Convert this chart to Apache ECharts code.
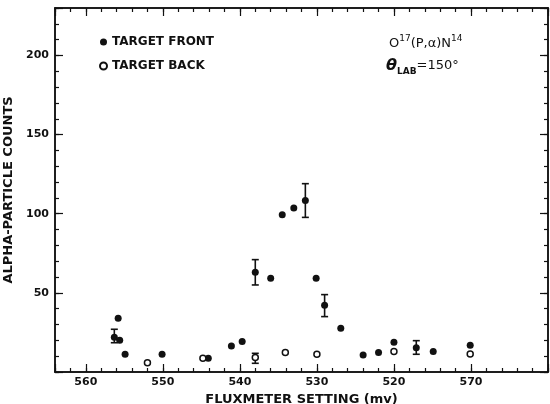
<!DOCTYPE html>
<html>
<head>
<meta charset="utf-8" />
<style>
  html, body { margin: 0; padding: 0; background: #fff; }
  #chart { width: 550px; height: 404px; }
</style>
<script src="https://cdn.jsdelivr.net/npm/echarts@6/dist/echarts.min.js"></script>
</head>
<body>
<div id="chart"></div>
<script>
// Values (fluxmeter setting in mV, alpha counts).
const frontX = [555.8, 556.3, 555.6, 554.9, 550.1, 544.1, 541.1, 539.7, 538.0, 536.0, 534.5, 533.0, 531.5, 530.1, 529.0, 526.9, 524.0, 522.0, 520.0, 517.1, 514.9, 510.1];
const frontY = [34.0, 22.0, 20.0, 11.2, 11.2, 8.7, 16.5, 19.2, 63.1, 59.3, 99.4, 103.6, 108.4, 59.3, 42.2, 27.6, 10.8, 12.4, 18.8, 15.4, 12.9, 16.9];
const backX = [552.0, 544.8, 538.0, 534.1, 530.0, 520.0, 510.1];
const backY = [5.9, 8.7, 9.1, 12.4, 11.2, 12.9, 11.4];
// error bars: position, low, high
const errX = [556.3, 538.0, 531.5, 529.0, 517.1, 538.0];
const errLow = [18.5, 55.0, 97.7, 35.0, 11.2, 5.5];
const errHigh = [27.0, 71.0, 119.0, 48.9, 19.8, 11.8];
const xTickLabels = { 560: '560', 550: '550', 540: '540', 530: '530', 520: '520', 510: '570' };
const yTickLabels = { 50: '50', 100: '100', 150: '150', 200: '200' };

const font = 'DejaVu Sans';
const ink = '#111';
const xMin = 500, xMax = 564, yMin = 0, yMax = 230;

function xAxisDef(position, interval, len, showLabel) {
  return {
    type: 'value', position: position, inverse: true,
    min: xMin, max: xMax, interval: interval,
    splitLine: { show: false },
    axisLine: { show: true, onZero: false, lineStyle: { color: ink, width: 1.5 } },
    axisTick: { show: true, inside: true, length: len, lineStyle: { color: ink, width: 1.2 } },
    axisLabel: {
      show: showLabel, margin: 5, color: ink, fontFamily: font, fontSize: 11, fontWeight: 'bold',
      formatter: v => xTickLabels[v] || ''
    }
  };
}

function yAxisDef(position, interval, len, showLabel) {
  return {
    type: 'value', position: position,
    min: yMin, max: yMax, interval: interval,
    splitLine: { show: false },
    axisLine: { show: true, onZero: false, lineStyle: { color: ink, width: 1.5 } },
    axisTick: { show: true, inside: true, length: len, lineStyle: { color: ink, width: 1.2 } },
    axisLabel: {
      show: showLabel, margin: 6, color: ink, fontFamily: font, fontSize: 11, fontWeight: 'bold',
      formatter: v => yTickLabels[v] || ''
    }
  };
}

const xAxes = [
  xAxisDef('bottom', 10, 8, true),
  xAxisDef('bottom', 2, 4, false),
  xAxisDef('top', 10, 8, false),
  xAxisDef('top', 2, 4, false)
];
xAxes[0].name = 'FLUXMETER SETTING (mv)';
xAxes[0].nameLocation = 'middle';
xAxes[0].nameGap = 16;
xAxes[0].nameTextStyle = { color: ink, fontFamily: font, fontSize: 13, fontWeight: 'bold' };

const yAxes = [
  yAxisDef('left', 50, 8, true),
  yAxisDef('left', 10, 4, false),
  yAxisDef('right', 50, 8, false),
  yAxisDef('right', 10, 4, false)
];
yAxes[0].name = 'ALPHA-PARTICLE COUNTS';
yAxes[0].nameLocation = 'middle';
yAxes[0].nameGap = 33;
yAxes[0].nameTextStyle = { color: ink, fontFamily: font, fontSize: 13, fontWeight: 'bold' };

const errData = errX.map((x, i) => [x, errLow[i], errHigh[i]]);

function renderErrorBar(params, api) {
  const x = api.value(0);
  const top = api.coord([x, api.value(2)]);
  const bot = api.coord([x, api.value(1)]);
  const cap = 3.5;
  const style = { stroke: ink, lineWidth: 1.6 };
  return {
    type: 'group',
    children: [
      { type: 'line', shape: { x1: top[0], y1: top[1], x2: bot[0], y2: bot[1] }, style: style },
      { type: 'line', shape: { x1: top[0] - cap, y1: top[1], x2: top[0] + cap, y2: top[1] }, style: style },
      { type: 'line', shape: { x1: bot[0] - cap, y1: bot[1], x2: bot[0] + cap, y2: bot[1] }, style: style }
    ]
  };
}

const chart = echarts.init(document.getElementById('chart'), null, { renderer: 'canvas' });
chart.setOption({
  animation: false,
  backgroundColor: '#fff',
  grid: { left: 55, right: 2, top: 8, bottom: 32, containLabel: false, outerBoundsMode: 'none' },
  xAxis: xAxes,
  yAxis: yAxes,
  legend: {
    orient: 'vertical', left: 94, top: 31, itemGap: 12,
    itemWidth: 7, itemHeight: 7,
    textStyle: { color: ink, fontFamily: font, fontSize: 12, fontWeight: 'bold' },
    data: ['TARGET FRONT', 'TARGET BACK']
  },
  graphic: [
    {
      type: 'text', left: 389, top: 34,
      style: {
        text: '{b|O}{s|17}{b|(P,α)N}{s|14}',
        rich: {
          b: { fontFamily: font, fontSize: 13, fill: ink, verticalAlign: 'bottom', lineHeight: 16 },
          s: { fontFamily: font, fontSize: 9, fill: ink, verticalAlign: 'top', lineHeight: 16, padding: [0, 0, 8, 0] }
        }
      }
    },
    {
      type: 'text', left: 386, top: 55,
      style: {
        text: '{t|θ}{l|LAB}{e|=150°}',
        rich: {
          t: { fontFamily: font, fontSize: 16, fontStyle: 'italic', fontWeight: 'bold', fill: ink, lineHeight: 20 },
          l: { fontFamily: font, fontSize: 9, fontWeight: 'bold', fill: ink, lineHeight: 20, padding: [12, 0, 0, 0] },
          e: { fontFamily: font, fontSize: 13, fill: ink, lineHeight: 20 }
        }
      }
    }
  ],
  series: [
    {
      name: 'TARGET FRONT', type: 'scatter', xAxisIndex: 0, yAxisIndex: 0,
      symbol: 'circle', symbolSize: 7,
      itemStyle: { color: ink, opacity: 1 },
      data: frontX.map((x, i) => [x, frontY[i]]),
      z: 3
    },
    {
      name: 'TARGET BACK', type: 'scatter', xAxisIndex: 0, yAxisIndex: 0,
      symbol: 'circle', symbolSize: 6,
      itemStyle: { color: '#fff', borderColor: ink, borderWidth: 1.5, opacity: 1 },
      data: backX.map((x, i) => [x, backY[i]]),
      z: 4
    },
    {
      name: 'errors', type: 'custom', xAxisIndex: 0, yAxisIndex: 0,
      renderItem: renderErrorBar,
      data: errData,
      z: 2
    }
  ]
});
</script>
</body>
</html>
